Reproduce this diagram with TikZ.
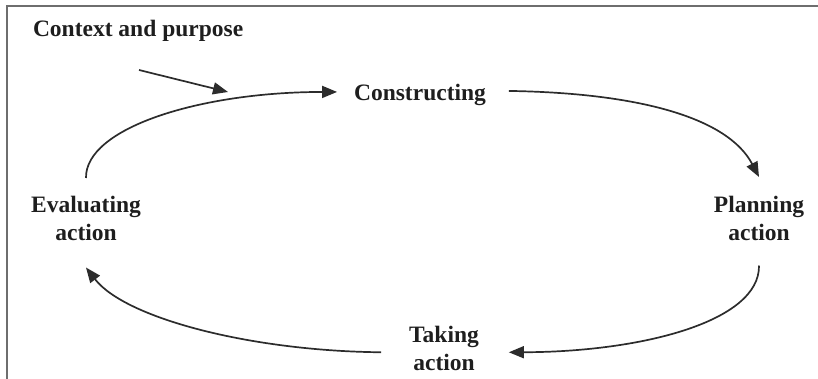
\documentclass[tikz,border=0pt]{standalone}
\usepackage{fontspec}
\setmainfont{Liberation Serif}
\usetikzlibrary{arrows.meta}
\definecolor{framegray}{HTML}{6E6E6E}
\definecolor{inkgray}{HTML}{2C2C2C}
\definecolor{textgray}{HTML}{1E1E1E}
\begin{document}
\begin{tikzpicture}[x=1pt,y=-1pt,
  label/.style={font=\bfseries\fontsize{23.5}{28}\selectfont, text=textgray,
    inner sep=0pt, outer sep=0pt, align=center},
  cycarrow/.style={draw=inkgray, line width=1.7pt,
    -{Triangle[length=15pt,width=12pt]}}]
  \useasboundingbox (0,0) rectangle (818,379);

  % frame (left and top edges)
  \draw[framegray, line width=2pt] (7,379) -- (7,6) -- (818,6);

  % labels
  \node[label, anchor=base west] (ctx) at (33,37) {Context and purpose};
  \node[label, anchor=base] (con) at (420,100.5) {Constructing};
  \node[label, anchor=north] (pl) at (759,196) {Planning\\action};
  \node[label, anchor=north] (tk) at (444,326) {Taking\\action};
  \node[label, anchor=north] (ev) at (86,196) {Evaluating\\action};

  % context input arrow
  \coordinate (ctxa) at (139,70);
  \coordinate (ctxb) at (228,92);
  \draw[cycarrow] (ctxa) -- (ctxb);

  % the cycle
  \draw[cycarrow] ([yshift=18pt]ev.north)
    .. controls (85,128) and (200,92) .. ([xshift=-17pt,yshift=3pt]con.west);
  \draw[cycarrow] ([xshift=23pt,yshift=4pt]con.east)
    .. controls (640,93) and (728,118) .. ([yshift=19pt]pl.north);
  \draw[cycarrow] ([yshift=-25pt]pl.south)
    .. controls (760,322) and (640,352) .. ([xshift=30pt,yshift=-4pt]tk.east);
  \draw[cycarrow] ([xshift=-28pt,yshift=-4pt]tk.west)
    .. controls (250,351) and (125,318) .. ([yshift=-27pt]ev.south);
\end{tikzpicture}
\end{document}
